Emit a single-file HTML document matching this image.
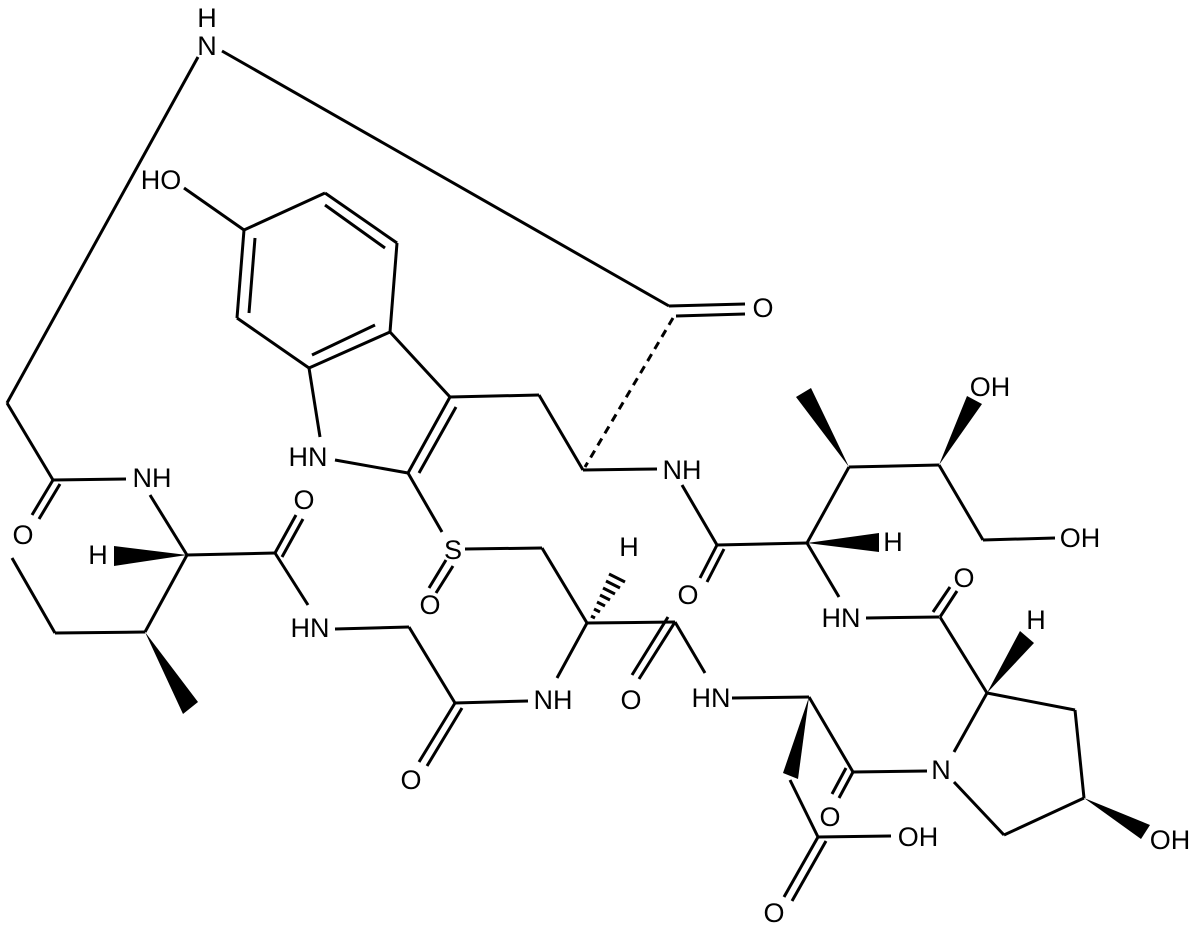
<!DOCTYPE html>
<html><head><meta charset="utf-8"><style>html,body{margin:0;padding:0;background:#fff}svg{display:block}</style></head>
<body>
<svg width="1200" height="932" viewBox="0 0 1200 932" xmlns="http://www.w3.org/2000/svg">
<g stroke="#000" stroke-width="3" fill="none" stroke-linecap="butt">
<line x1="198" y1="57" x2="7" y2="403"/>
<line x1="222" y1="51" x2="669" y2="306"/>
<line x1="7" y1="403" x2="53" y2="480"/>
<line x1="53" y1="480" x2="32" y2="515"/>
<line x1="60" y1="484" x2="39" y2="519"/>
<line x1="53" y1="480" x2="126" y2="479"/>
<line x1="150" y1="495" x2="187" y2="555"/>
<line x1="187" y1="555" x2="145" y2="632"/>
<line x1="145" y1="632" x2="55" y2="633"/>
<line x1="55" y1="633" x2="12" y2="558"/>
<line x1="187" y1="555" x2="275" y2="553"/>
<line x1="275" y1="553" x2="296" y2="515"/>
<line x1="282" y1="557" x2="303" y2="519"/>
<line x1="275" y1="553" x2="308" y2="605"/>
<line x1="335" y1="629" x2="409" y2="627"/>
<line x1="409" y1="627" x2="455" y2="703"/>
<line x1="455" y1="703" x2="419" y2="762"/>
<line x1="462" y1="708" x2="427" y2="766"/>
<line x1="455" y1="703" x2="528" y2="701"/>
<line x1="557" y1="678" x2="587" y2="623"/>
<line x1="587" y1="623" x2="542" y2="548"/>
<line x1="542" y1="548" x2="465" y2="549"/>
<line x1="442" y1="532" x2="408" y2="473"/>
<line x1="446" y1="560" x2="429" y2="588"/>
<line x1="453" y1="566" x2="436" y2="593"/>
<line x1="587" y1="623" x2="675" y2="622"/>
<line x1="675" y1="622" x2="639" y2="679"/>
<line x1="668" y1="617" x2="632" y2="675"/>
<line x1="675" y1="622" x2="705" y2="673"/>
<line x1="732" y1="698" x2="809" y2="697"/>
<line x1="809" y1="697" x2="853" y2="772"/>
<line x1="853" y1="772" x2="839" y2="798"/>
<line x1="846" y1="768" x2="832" y2="794"/>
<line x1="853" y1="772" x2="927" y2="771"/>
<line x1="790" y1="780" x2="818" y2="837"/>
<line x1="818" y1="837" x2="891" y2="836"/>
<line x1="818" y1="837" x2="784" y2="897"/>
<line x1="826" y1="841" x2="792" y2="901"/>
<line x1="954" y1="752" x2="987" y2="693"/>
<line x1="987" y1="693" x2="1075" y2="710"/>
<line x1="1075" y1="710" x2="1084" y2="798"/>
<line x1="1084" y1="798" x2="1004" y2="835"/>
<line x1="1004" y1="835" x2="954" y2="782"/>
<line x1="987" y1="693" x2="940" y2="617"/>
<line x1="939" y1="617" x2="866" y2="618"/>
<line x1="940" y1="617" x2="957" y2="591"/>
<line x1="933" y1="612" x2="950" y2="587"/>
<line x1="839" y1="597" x2="807" y2="543"/>
<line x1="807" y1="543" x2="717" y2="545"/>
<line x1="717" y1="545" x2="700" y2="578"/>
<line x1="724" y1="549" x2="707" y2="582"/>
<line x1="717" y1="545" x2="682" y2="485"/>
<line x1="657" y1="469" x2="583" y2="470"/>
<line x1="807" y1="543" x2="849" y2="467"/>
<line x1="849" y1="467" x2="939" y2="465"/>
<line x1="939" y1="465" x2="983" y2="540"/>
<line x1="983" y1="540" x2="1055" y2="538"/>
<line x1="669" y1="306" x2="745" y2="304"/>
<line x1="676" y1="316" x2="745" y2="314"/>
<line x1="673" y1="318" x2="585" y2="467" stroke-dasharray="8,6"/>
<line x1="184" y1="188" x2="244" y2="230"/>
<line x1="244" y1="230" x2="325" y2="193"/>
<line x1="325" y1="193" x2="397" y2="243"/>
<line x1="325" y1="205" x2="385" y2="248"/>
<line x1="397" y1="243" x2="390" y2="332"/>
<line x1="390" y1="332" x2="309" y2="368"/>
<line x1="375" y1="325" x2="312" y2="355"/>
<line x1="309" y1="368" x2="237" y2="318"/>
<line x1="237" y1="318" x2="244" y2="230"/>
<line x1="249" y1="313" x2="255" y2="238"/>
<line x1="309" y1="368" x2="320" y2="437"/>
<line x1="335" y1="460" x2="408" y2="473"/>
<line x1="390" y1="332" x2="450" y2="397"/>
<line x1="450" y1="397" x2="408" y2="473"/>
<line x1="456" y1="407" x2="419" y2="473"/>
<line x1="450" y1="397" x2="539" y2="395"/>
<line x1="539" y1="395" x2="583" y2="470"/>
</g>
<g fill="#000">
<polygon points="187,555 114,546 114,566"/>
<polygon points="145,632 183,714 198,702"/>
<polygon points="807,543 879,533 879,552"/>
<polygon points="849,467 796,397 811,388"/>
<polygon points="939,465 967,396 982,404"/>
<polygon points="809,697 783,773 798,779"/>
<polygon points="987,693 1020,631 1034,643"/>
<polygon points="1084,798 1141,839 1150,825"/>
</g>
<g stroke="#000" stroke-width="3">
<line x1="591" y1="616" x2="595" y2="618"/>
<line x1="594" y1="609" x2="600" y2="612"/>
<line x1="597" y1="602" x2="605" y2="606"/>
<line x1="600" y1="595" x2="610" y2="600"/>
<line x1="603" y1="588" x2="615" y2="594"/>
<line x1="606" y1="581" x2="620" y2="588"/>
<line x1="609" y1="574" x2="625" y2="582"/>
</g>
<g font-family="Liberation Sans, Arial, sans-serif" font-size="27" text-anchor="middle" dominant-baseline="central" fill="#000">
<text x="207" y="18">H</text>
<text x="207" y="46">N</text>
<text x="161" y="180">HO</text>
<text x="763" y="308">O</text>
<text x="308" y="457">HN</text>
<text x="152" y="478">NH</text>
<text x="23" y="535">O</text>
<text x="98" y="555">H</text>
<text x="304" y="500">O</text>
<text x="310" y="628">HN</text>
<text x="453" y="550">S</text>
<text x="430" y="605">O</text>
<text x="411" y="780">O</text>
<text x="553" y="700">NH</text>
<text x="629" y="547">H</text>
<text x="682" y="470">NH</text>
<text x="688" y="595">O</text>
<text x="893" y="542">H</text>
<text x="990" y="387">OH</text>
<text x="1080" y="538">OH</text>
<text x="841" y="618">HN</text>
<text x="964" y="578">O</text>
<text x="1036" y="620">H</text>
<text x="631" y="700">O</text>
<text x="711" y="698">HN</text>
<text x="830" y="817">O</text>
<text x="941" y="770">N</text>
<text x="918" y="837">OH</text>
<text x="774" y="913">O</text>
<text x="1170" y="840">OH</text>
</g>
</svg>
</body></html>
